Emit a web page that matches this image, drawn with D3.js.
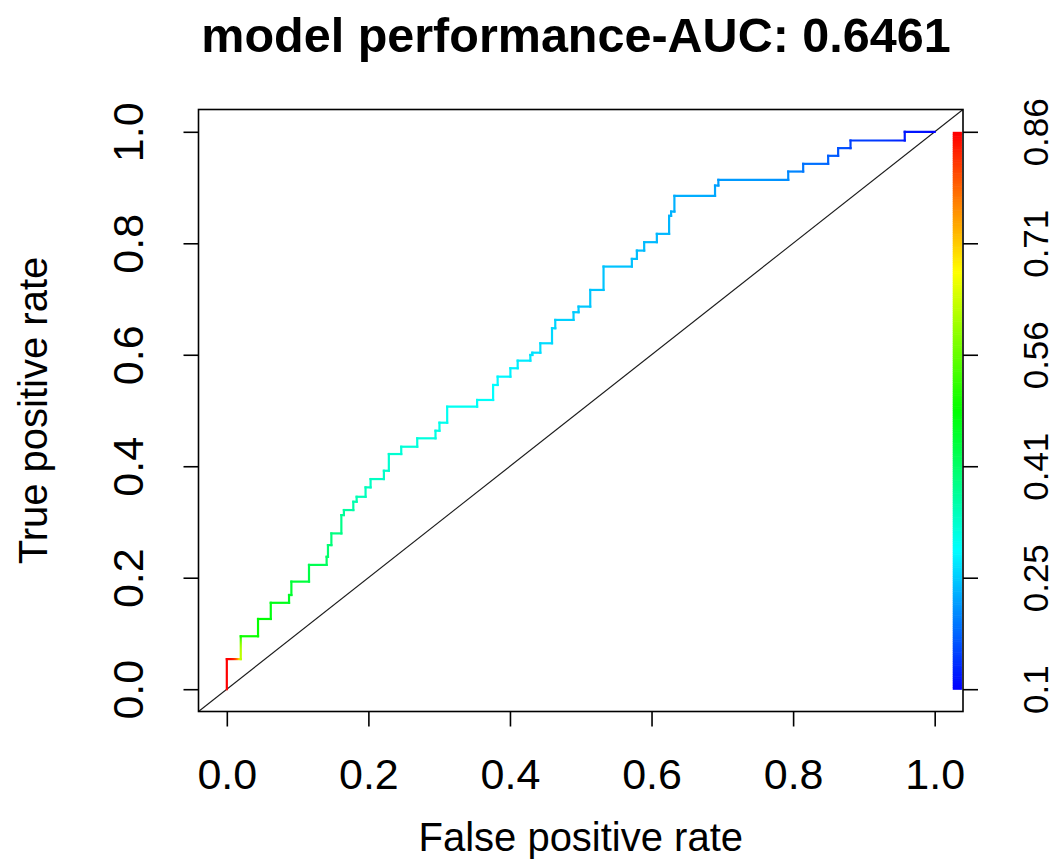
<!DOCTYPE html>
<html>
<head>
<meta charset="utf-8">
<script src="https://cdn.jsdelivr.net/npm/d3@7"></script>
<style>
  html, body { margin: 0; padding: 0; background: #fff; }
  svg { display: block; font-family: "Liberation Sans", Arial, sans-serif; }
</style>
</head>
<body>
<svg id="chart" width="1056" height="867"></svg>
<script>
// ---- data ----
const titleText = "model performance-AUC: 0.6461";
const xLabel = "False positive rate";
const yLabel = "True positive rate";
const axisTicks = [0, 0.2, 0.4, 0.6, 0.8, 1.0];
const cutoffTickLabels = ["0.1", "0.25", "0.41", "0.56", "0.71", "0.86"];
const cutoffRange = [0.1, 0.86];

const fpr = [0, 0, 0.0197, 0.0197, 0.0441, 0.0441, 0.0621, 0.0621, 0.0879, 0.0879,
  0.0912, 0.0912, 0.1161, 0.1161, 0.141, 0.141, 0.1429, 0.1429, 0.1477, 0.1477,
  0.1618, 0.1618, 0.1654, 0.1654, 0.1787, 0.1787, 0.1834, 0.1834, 0.196, 0.196,
  0.2031, 0.2031, 0.2219, 0.2219, 0.2289, 0.2289, 0.2464, 0.2464, 0.269, 0.269,
  0.2948, 0.2948, 0.3004, 0.3004, 0.3113, 0.3113, 0.3536, 0.3536, 0.3762, 0.3762,
  0.3826, 0.3826, 0.4006, 0.4006, 0.4109, 0.4109, 0.4288, 0.4288, 0.4316, 0.4316,
  0.4429, 0.4429, 0.4594, 0.4594, 0.464, 0.464, 0.4898, 0.4898, 0.4969, 0.4969,
  0.5134, 0.5134, 0.5322, 0.5322, 0.5722, 0.5722, 0.5793, 0.5793, 0.5896, 0.5896,
  0.6075, 0.6075, 0.6248, 0.6248, 0.6276, 0.6276, 0.6323, 0.6323, 0.6897, 0.6897,
  0.6944, 0.6944, 0.7931, 0.7931, 0.8142, 0.8142, 0.8495, 0.8495, 0.8636, 0.8636,
  0.8811, 0.8811, 0.9577, 0.9577, 1.0];
const tpr = [0, 0.054, 0.054, 0.095, 0.095, 0.126, 0.126, 0.155, 0.155, 0.169,
  0.169, 0.193, 0.193, 0.223, 0.223, 0.2375, 0.2375, 0.2585, 0.2585, 0.2795,
  0.2795, 0.3124, 0.3124, 0.3214, 0.3214, 0.3363, 0.3363, 0.3452, 0.3452, 0.3621,
  0.3621, 0.377, 0.377, 0.3919, 0.3919, 0.4219, 0.4219, 0.435, 0.435, 0.4501,
  0.4501, 0.4637, 0.4637, 0.4781, 0.4781, 0.5068, 0.5068, 0.5189, 0.5189, 0.5458,
  0.5458, 0.5607, 0.5607, 0.5758, 0.5758, 0.5894, 0.5894, 0.5996, 0.5996, 0.6037,
  0.6037, 0.6206, 0.6206, 0.6476, 0.6476, 0.6625, 0.6625, 0.6763, 0.6763, 0.6864,
  0.6864, 0.7163, 0.7163, 0.7582, 0.7582, 0.772, 0.772, 0.7869, 0.7869, 0.802,
  0.802, 0.8169, 0.8169, 0.8492, 0.8492, 0.8569, 0.8569, 0.8851, 0.8851, 0.9036,
  0.9036, 0.9138, 0.9138, 0.9287, 0.9287, 0.9425, 0.9425, 0.9569, 0.9569, 0.9707,
  0.9707, 0.9844, 0.9844, 1.0, 1.0];
const cutoff = [0.86, 0.86, 0.62, 0.49, 0.485, 0.48, 0.47, 0.465, 0.455, 0.45,
  0.445, 0.44, 0.43, 0.42, 0.41, 0.405, 0.40, 0.395, 0.39, 0.385,
  0.38, 0.37, 0.365, 0.36, 0.355, 0.35, 0.35, 0.345, 0.34, 0.34,
  0.335, 0.335, 0.33, 0.33, 0.325, 0.325, 0.32, 0.32, 0.315, 0.315,
  0.31, 0.31, 0.305, 0.305, 0.30, 0.30, 0.295, 0.295, 0.29, 0.29,
  0.285, 0.285, 0.28, 0.28, 0.278, 0.276, 0.274, 0.272, 0.27, 0.268,
  0.266, 0.264, 0.262, 0.26, 0.258, 0.256, 0.254, 0.252, 0.25, 0.249,
  0.248, 0.247, 0.246, 0.245, 0.244, 0.243, 0.242, 0.241, 0.24, 0.239,
  0.238, 0.237, 0.236, 0.235, 0.234, 0.233, 0.232, 0.23, 0.225, 0.22,
  0.218, 0.215, 0.205, 0.20, 0.19, 0.185, 0.175, 0.17, 0.165, 0.16,
  0.15, 0.145, 0.12, 0.115, 0.10];

// ---- layout ----
const svg = d3.select("#chart");
const plot = { left: 198.5, right: 963, top: 109.5, bottom: 711.5 };
const x = d3.scaleLinear().domain([-0.04, 1.04]).range([plot.left, plot.right]);
const y = d3.scaleLinear().domain([-0.04, 1.04]).range([plot.bottom, plot.top]);
const hue = d3.scaleLinear().domain(cutoffRange).range([240, 0]).clamp(true);
const col = c => d3.hsl(hue(c), 1, 0.5).formatHex();

// title
svg.append("text").attr("x", 576).attr("y", 52).attr("text-anchor", "middle")
  .attr("font-size", 48.5).attr("font-weight", "bold").attr("fill", "#000").text(titleText);

// axis titles
svg.append("text").attr("x", (plot.left + plot.right) / 2).attr("y", 851)
  .attr("text-anchor", "middle").attr("font-size", 40).text(xLabel);
svg.append("text").attr("transform", `translate(47,${(plot.top + plot.bottom) / 2}) rotate(-90)`)
  .attr("text-anchor", "middle").attr("font-size", 40).text(yLabel);

// colour bar
const nCol = 256;
const barY = d3.scaleLinear().domain([0, nCol]).range([y(0), y(1)]);
const barIdx = d3.range(nCol);
svg.append("g").selectAll("rect").data(barIdx).join("rect")
  .attr("x", x(1.0255)).attr("width", x(1.0385) - x(1.0255))
  .attr("y", i => barY(i + 1)).attr("height", i => barY(i) - barY(i + 1) + 0.6)
  .attr("fill", i => col(cutoffRange[0] + (i / (nCol - 1)) * (cutoffRange[1] - cutoffRange[0])));

// diagonal (abline 0,1)
svg.append("line")
  .attr("x1", x(-0.04)).attr("y1", y(-0.04)).attr("x2", x(1.04)).attr("y2", y(1.04))
  .attr("stroke", "#1a1a1a").attr("stroke-width", 1.1);

// ROC curve with colour gradients along each segment
const defs = svg.append("defs");
const segs = d3.range(fpr.length - 1).map(i => ({
  i, x1: x(fpr[i]), y1: y(tpr[i]), x2: x(fpr[i + 1]), y2: y(tpr[i + 1]),
  c1: cutoff[i], c2: cutoff[i + 1]
}));
segs.forEach(s => {
  const g = defs.append("linearGradient").attr("id", "g" + s.i)
    .attr("gradientUnits", "userSpaceOnUse")
    .attr("x1", s.x1).attr("y1", s.y1)
    .attr("x2", s.x2).attr("y2", s.y2 + (s.y1 === s.y2 && s.x1 === s.x2 ? 1 : 0));
  d3.range(0, 1.0001, 0.125).forEach(t => {
    // colour stays high (red) over most of a segment, then moves to the next cutoff
    const tt = Math.pow(t, 3);
    g.append("stop").attr("offset", t).attr("stop-color", col(s.c1 + (s.c2 - s.c1) * tt));
  });
});
svg.append("g").selectAll("line").data(segs).join("line")
  .attr("x1", d => d.x1).attr("y1", d => d.y1).attr("x2", d => d.x2).attr("y2", d => d.y2)
  .attr("stroke", d => `url(#g${d.i})`).attr("stroke-width", 2.2)
  .attr("stroke-linecap", "square");

// plot box
svg.append("rect").attr("x", plot.left).attr("y", plot.top)
  .attr("width", plot.right - plot.left).attr("height", plot.bottom - plot.top)
  .attr("fill", "none").attr("stroke", "#000").attr("stroke-width", 1.6);

// bottom axis
const gx = svg.append("g").attr("transform", `translate(0,${plot.bottom})`)
  .call(d3.axisBottom(x).tickValues(axisTicks).tickFormat(d3.format(".1f")).tickSize(15));
gx.select(".domain").remove();
gx.selectAll(".tick line").attr("stroke", "#000").attr("stroke-width", 1.6);
gx.selectAll(".tick text").attr("font-size", 43).attr("font-family", "Liberation Sans, Arial, sans-serif")
  .attr("fill", "#000").attr("y", 77).attr("dy", 0);

// left axis
const gy = svg.append("g").attr("transform", `translate(${plot.left},0)`)
  .call(d3.axisLeft(y).tickValues(axisTicks).tickFormat(d3.format(".1f")).tickSize(15));
gy.select(".domain").remove();
gy.selectAll(".tick line").attr("stroke", "#000").attr("stroke-width", 1.6);
gy.selectAll(".tick text").attr("font-size", 43).attr("font-family", "Liberation Sans, Arial, sans-serif")
  .attr("fill", "#000").attr("text-anchor", "middle")
  .attr("transform", "rotate(-90)").attr("x", 0).attr("y", -56).attr("dy", 0);

// right axis (cutoff colour key)
const gr = svg.append("g").attr("transform", `translate(${plot.right},0)`)
  .call(d3.axisRight(y).tickValues(axisTicks).tickFormat((d, i) => cutoffTickLabels[i]).tickSize(15));
gr.select(".domain").remove();
gr.selectAll(".tick line").attr("stroke", "#000").attr("stroke-width", 1.6);
gr.selectAll(".tick text").attr("font-size", 35).attr("font-family", "Liberation Sans, Arial, sans-serif")
  .attr("fill", "#000").attr("text-anchor", "middle")
  .attr("transform", "rotate(-90)").attr("x", 0).attr("y", 85).attr("dy", 0);
</script>
</body>
</html>
